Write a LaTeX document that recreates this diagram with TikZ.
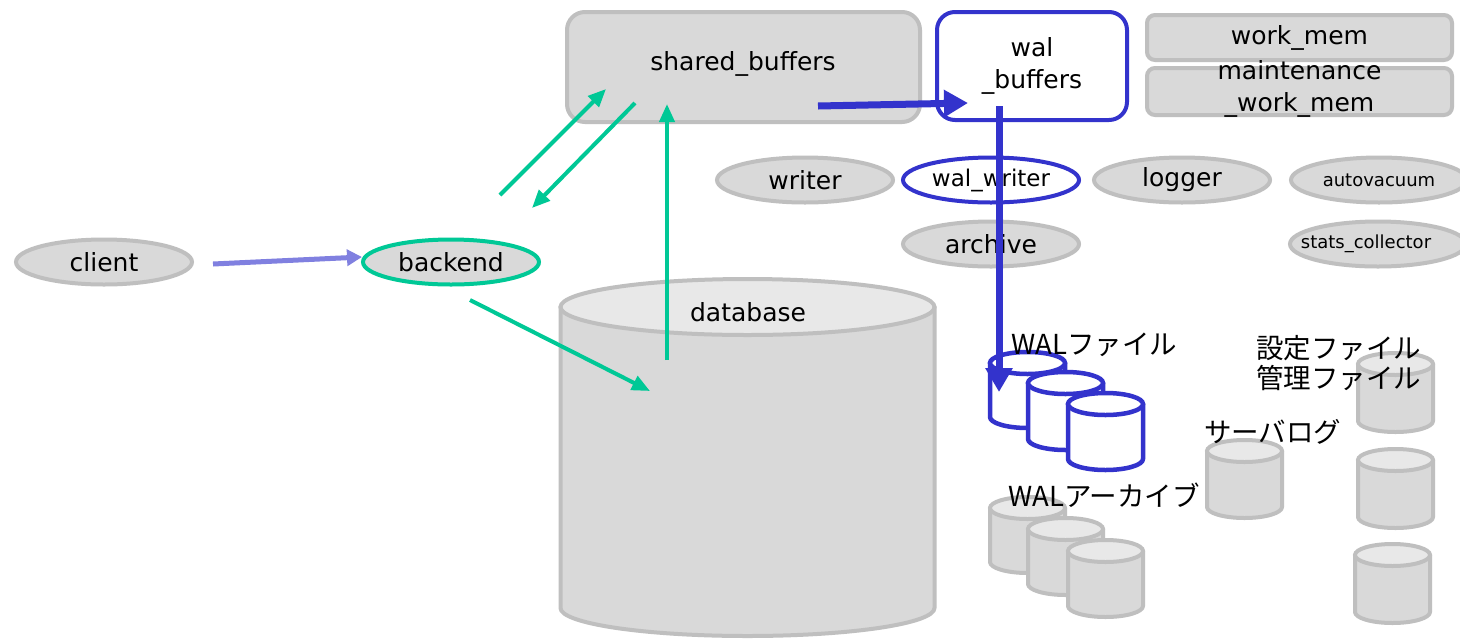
\documentclass[tikz,border=0pt]{standalone}
\usepackage{fontspec}
\setmainfont{DejaVu Sans}
\newfontfamily\jpfont{Noto Sans CJK JP}
\usetikzlibrary{arrows.meta,shapes.geometric}
\definecolor{boxgray}{HTML}{D9D9D9}
\definecolor{edgegray}{HTML}{BFBFBF}
\definecolor{topgray}{HTML}{E8E8E8}
\definecolor{walblue}{HTML}{3333CC}
\definecolor{pggreen}{HTML}{00C896}
\definecolor{lav}{HTML}{8080E0}
% #1 name, #2 center x, #3 top y, #4 bottom y, #5 half width, #6 ry, #7 body style, #8 top style
\newcommand\mycyl[8]{%
  \coordinate (#1) at (#2,{-(#3+#4)/2});
  \path[#7] (#2-#5,-#3-#6) -- (#2-#5,-#4+#6)
     arc[start angle=180,end angle=360,x radius=#5,y radius=#6]
     -- (#2+#5,-#3-#6) -- cycle;
  \path[#8] (#2,-#3-#6) ellipse[x radius=#5,y radius=#6];
}
\begin{document}
\begin{tikzpicture}[x=1pt,y=1pt,
  ptext/.style={font=\fontsize{25}{32}\selectfont},
  jtext/.style={font=\jpfont\fontsize{27.5}{30}\selectfont, inner sep=0pt},
  gbox/.style={draw=edgegray, fill=boxgray, line width=4pt, rounded corners=18pt, inner sep=0pt, ptext},
  smallbox/.style={gbox, rounded corners=8pt},
  bbox/.style={draw=walblue, fill=white, line width=4pt, rounded corners=18pt, inner sep=0pt, ptext, align=center},
  proc/.style={ellipse, draw=edgegray, fill=boxgray, line width=4pt, inner sep=0pt, minimum width=176pt, minimum height=45pt, ptext},
  gcylbody/.style={draw=edgegray, fill=boxgray, line width=4pt, line join=round},
  gcyltop/.style={draw=edgegray, fill=topgray, line width=4pt},
  bcylbody/.style={draw=walblue, fill=white, line width=4.5pt, line join=round},
  bcyltop/.style={draw=walblue, fill=white, line width=4.5pt},
  garrow/.style={draw=pggreen, line width=4pt, -{Triangle[length=18pt,width=15pt]}},
  barrow/.style={draw=walblue, line width=7pt, -{Triangle[length=24pt,width=26pt]}},
  parrow/.style={draw=lav, line width=5pt, -{Triangle[length=15pt,width=16pt]}}
]
\clip (0,0) rectangle (1460,-638);
\fill[white] (0,0) rectangle (1460,-638);

% memory boxes
\node[gbox, minimum width=353pt, minimum height=110pt] (sb) at (743.5,-67) {};
\node[ptext] (sbt) at (743,-64) {shared\_buffers};
\node[bbox, minimum width=190pt, minimum height=108pt] (wb) at (1032,-66) {wal\\\_buffers};
\node[smallbox, minimum width=305pt, minimum height=45pt] (wm) at (1299.5,-37.5) {work\_mem};
\node[smallbox, minimum width=305pt, minimum height=47pt] (mwm) at (1299.5,-91.5) {};
\node[ptext, align=center] (mwmt) at (1299.5,-89) {maintenance\\\_work\_mem};

% processes
\node[proc] (writer) at (805,-180) {writer};
\node[proc, draw=walblue, fill=white, font=\fontsize{23}{27}\selectfont] (walwriter) at (991,-180) {wal\_writer};
\node[proc] (logger) at (1182,-180) {logger};
\node[proc, font=\fontsize{18}{21}\selectfont] (autovac) at (1379,-180) {autovacuum};
\node[proc] (archive) at (991,-244) {archive};
\node[proc] (stats) at (1378,-244) {};
\node[font=\fontsize{18}{21}\selectfont] (statst) at (1366,-244) {stats\_collector};
\node[proc] (client) at (104,-262) {client};
\node[proc, draw=pggreen] (backend) at (451,-262) {backend};

% database
\mycyl{db}{747.5}{279}{636}{187}{28}{gcylbody}{gcyltop}
\node[ptext] (dbt) at (748,-312) {database};

% WAL files
\mycyl{wal1}{1027.5}{352}{428}{37.5}{11}{bcylbody}{bcyltop}
\mycyl{wal2}{1065.5}{372}{450}{37.5}{11}{bcylbody}{bcyltop}
\mycyl{wal3}{1105.5}{393}{470}{37.5}{11}{bcylbody}{bcyltop}
% WAL archive
\mycyl{arc1}{1027.5}{497}{573}{37.5}{11}{gcylbody}{gcyltop}
\mycyl{arc2}{1065.5}{518}{595}{37.5}{11}{gcylbody}{gcyltop}
\mycyl{arc3}{1105.5}{540}{617}{37.5}{11}{gcylbody}{gcyltop}
% server log
\mycyl{slog}{1244.5}{440}{518}{37.5}{11}{gcylbody}{gcyltop}
% config / control files
\mycyl{conf1}{1395.5}{353}{432}{37.5}{11}{gcylbody}{gcyltop}
\mycyl{conf2}{1395.5}{449}{528}{37.5}{11}{gcylbody}{gcyltop}
\mycyl{conf3}{1392.5}{544}{623}{37.5}{11}{gcylbody}{gcyltop}

% labels
\node[jtext, anchor=west] (walft) at (1011,-345) {WALファイル};
\node[jtext, anchor=west] (walat) at (1008,-495) {WALアーカイブ};
\node[jtext, anchor=west] (slogt) at (1204,-432) {サーバログ};
\node[jtext, anchor=west, align=left] (conft) at (1256,-363) {設定ファイル\\管理ファイル};

% connector end points
\coordinate (ga1) at (500,-195);
\coordinate (ga2) at (606,-89);
\coordinate (gb1) at (635,-103);
\coordinate (gb2) at (532,-208);
\coordinate (gc1) at (667,-360);
\coordinate (gc2) at (667,-104);
\coordinate (gd1) at (470,-300);
\coordinate (gd2) at (650,-391);
\coordinate (ba1) at (818,-106);
\coordinate (ba2) at (968,-103);
\coordinate (bv1) at (999,-106);
\coordinate (bv2) at (999,-392);
\coordinate (pa1) at (213,-264);
\coordinate (pa2) at (362,-257);

% connectors
\draw[parrow] (pa1) -- (pa2);
\draw[garrow] (ga1) -- (ga2);
\draw[garrow] (gb1) -- (gb2);
\draw[garrow] (gc1) -- (gc2);
\draw[garrow] (gd1) -- (gd2);
\draw[barrow] (ba1) -- (ba2);
\draw[barrow] (bv1) -- (bv2);
\end{tikzpicture}
\end{document}
